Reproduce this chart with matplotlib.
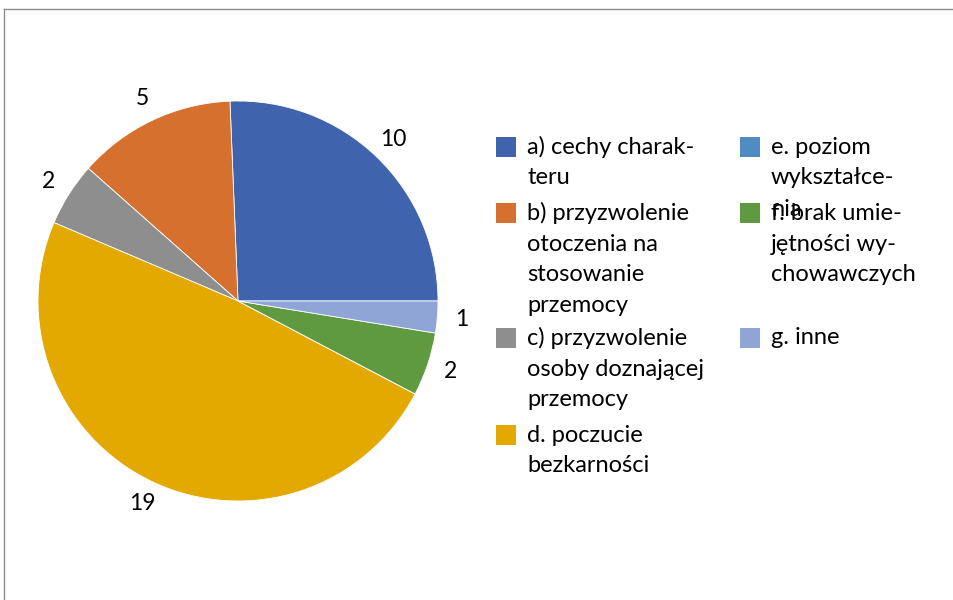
import matplotlib.pyplot as plt
from matplotlib.patches import Rectangle
from matplotlib.lines import Line2D

# Dane
categories = [
    "a) cechy charak-\nteru",
    "b) przyzwolenie\notoczenia na\nstosowanie\nprzemocy",
    "c) przyzwolenie\nosoby doznającej\nprzemocy",
    "d. poczucie\nbezkarności",
    "e. poziom\nwykształce-\nnia",
    "f. brak umie-\njętności wy-\nchowawczych",
    "g. inne",
]
values = [10, 5, 2, 19, 0, 2, 1]
colors = ["#3F64AD", "#D5702F", "#8E8E8E", "#E3A900", "#4E8CC2", "#5F9A40", "#8FA5D6"]

W, H = 954, 600
plt.rcParams["font.family"] = ["Lato", "DejaVu Sans"]

fig = plt.figure(figsize=(W / 100, H / 100), dpi=100)

# Wykres kołowy
cx, cy, r = 238, 301, 200
ax = fig.add_axes([(cx - r) / W, (H - cy - r) / H, 2 * r / W, 2 * r / H])
labels = [str(v) if v else "" for v in values]
wedges, texts = ax.pie(values, colors=colors, labels=labels, startangle=0,
                       labeldistance=1.12, radius=1,
                       wedgeprops=dict(edgecolor="white", linewidth=0.6),
                       textprops=dict(fontsize=16.5, color="#000000"))
for t in texts:
    t.set_ha("center")
    t.set_va("center")
ax.set_xlim(-1, 1)
ax.set_ylim(-1, 1)
ax.set_aspect("equal")
ax.axis("off")

# Legenda (ręcznie, dwie kolumny)
col_x = [496, 740]
start_y = [147, 213, 338, 435, 147, 213, 338]
col_of = [0, 0, 0, 0, 1, 1, 1]
line_h = 31
for i, lab in enumerate(categories):
    x0 = col_x[col_of[i]]
    y0 = start_y[i]
    fig.patches.append(Rectangle((x0 / W, 1 - (y0 + 10) / H), 20 / W, 20 / H,
                                 transform=fig.transFigure, facecolor=colors[i],
                                 edgecolor="none"))
    for j, line in enumerate(lab.split("\n")):
        fig.text((x0 + 31) / W, 1 - (y0 + j * line_h) / H, line, fontsize=17,
                 ha="left", va="center", color="#000000")

# Ramka
fig.add_artist(Line2D([4.5 / W, 4.5 / W], [0, 1 - 9 / H], color="#8C8C8C", lw=1))
fig.add_artist(Line2D([4.5 / W, 1], [1 - 9 / H, 1 - 9 / H], color="#8C8C8C", lw=1))

fig.savefig("out.png", dpi=100)
